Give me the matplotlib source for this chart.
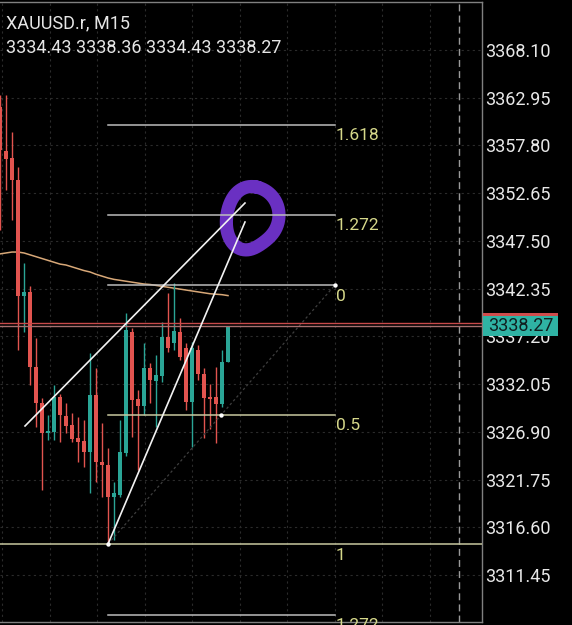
import matplotlib
matplotlib.use("Agg")
import matplotlib.pyplot as plt
from matplotlib.patches import Rectangle
import numpy as np

# ---------------- data ----------------
symbol_text = "XAUUSD.r, M15"
ohlc_text = "3334.43 3338.36 3334.43 3338.27"

opens = [3361.95, 3357.20, 3356.45, 3354.07, 3341.55, 3341.99, 3333.89, 3330.01, 3326.77, 3326.88,
         3330.65, 3328.61, 3327.63, 3326.23, 3325.91, 3324.72, 3330.87, 3323.64, 3323.32, 3319.86,
         3320.08, 3324.61, 3337.67, 3330.44, 3329.68, 3333.78, 3332.38, 3332.92, 3337.13, 3336.48,
         3337.67, 3335.94, 3330.12, 3335.73, 3333.14, 3330.65, 3330.65, 3329.90, 3334.43]
highs = [3363.24, 3363.24, 3359.25, 3355.47, 3345.12, 3342.63, 3337.02, 3330.55, 3328.71, 3331.95,
         3330.98, 3330.01, 3328.93, 3328.50, 3328.17, 3335.40, 3333.78, 3327.85, 3325.15, 3321.48,
         3328.17, 3339.72, 3338.10, 3331.41, 3336.48, 3334.32, 3335.19, 3338.75, 3341.88, 3342.96,
         3339.18, 3336.48, 3336.59, 3336.27, 3333.78, 3332.06, 3333.89, 3335.73, 3338.36]
lows = [3348.68, 3352.99, 3349.76, 3335.73, 3337.67, 3331.95, 3327.42, 3320.62, 3326.02, 3326.02,
        3325.80, 3326.77, 3325.80, 3323.64, 3323.10, 3320.30, 3321.48, 3319.86, 3314.79, 3315.22,
        3319.86, 3324.30, 3326.34, 3322.78, 3328.71, 3330.01, 3327.42, 3332.27, 3335.51, 3335.73,
        3334.65, 3329.25, 3325.26, 3332.49, 3326.23, 3327.20, 3325.69, 3329.60, 3334.43]
closes = [3357.31, 3356.34, 3354.07, 3341.55, 3341.99, 3333.89, 3330.01, 3326.77, 3326.99, 3330.65,
          3328.71, 3327.53, 3326.12, 3325.80, 3324.72, 3330.87, 3323.64, 3323.32, 3319.86, 3320.30,
          3324.72, 3337.89, 3330.33, 3329.68, 3333.78, 3332.49, 3333.03, 3337.13, 3335.94, 3337.78,
          3334.97, 3330.12, 3335.94, 3333.14, 3330.55, 3330.44, 3329.90, 3334.43, 3338.27]
ma_values = [3346.10, 3346.20, 3346.30, 3346.30, 3346.20, 3346.00, 3345.80, 3345.60, 3345.40, 3345.20,
             3345.00, 3344.90, 3344.70, 3344.50, 3344.30, 3344.15, 3343.90, 3343.70, 3343.50, 3343.35,
             3343.25, 3343.15, 3343.05, 3342.95, 3342.85, 3342.80, 3342.70, 3342.60, 3342.50, 3342.40,
             3342.30, 3342.20, 3342.10, 3342.00, 3341.90, 3341.80, 3341.75, 3341.70, 3341.60]

y_ticks = [3368.10, 3362.95, 3357.80, 3352.65, 3347.50, 3342.35, 3337.20,
           3332.05, 3326.90, 3321.75, 3316.60, 3311.45]

fib_anchor0 = (55.83, 3342.74)
fib_anchor1 = (18.0, 3314.79)
fib_ratios = [-0.618, -0.272, 0.0, 0.5, 1.0, 1.272]
fib_labels = ["1.618", "1.272", "0", "0.5", "1", "1.272"]

trend_a_x = [4.17, 40.83]
trend_a_y = [3327.53, 3351.59]
trend_b_x = [18.0, 40.83]
trend_b_y = [3314.79, 3349.54]

bid_price = 3338.27
ask_price = 3338.59
last_label = "3338.27"

# ---------------- figure ----------------
W, H = 572, 625
fig = plt.figure(figsize=(W / 100, H / 100), dpi=100, facecolor="black")
ax = fig.add_axes([0, 3 / H, 482 / W, 620 / H], facecolor="black")
ax.set_xlim(0, 80.33)
ax.set_ylim(3306.38, 3373.28)

FONT = ["Roboto", "DejaVu Sans"]

# grid
for gx in [0.33 + 7.92 * n for n in range(10)]:
    ax.axvline(gx, color="#2b2b2b", lw=0.8, ls=(0, (2, 3)), zorder=0)
for gy in y_ticks:
    ax.axhline(gy, color="#2b2b2b", lw=0.8, ls=(0, (2, 3)), zorder=0)

# dashed vertical (future separator)
ax.axvline(76.5, color="#9a9a9a", lw=1.0, ls=(0, (5, 3)), zorder=1)

# moving average
xs = np.arange(len(closes))
ax.plot(xs, ma_values, color="#d8a878", lw=1.1, zorder=2)

# candles
up_col, dn_col = "#2aa596", "#e2544f"
cols = [up_col if c >= o else dn_col for o, c in zip(opens, closes)]
ax.vlines(xs, lows, highs, colors=cols, lw=1.0, zorder=3)
bottoms = [min(o, c) for o, c in zip(opens, closes)]
heights = [max(abs(c - o), 0.15) for o, c in zip(opens, closes)]
ax.bar(xs, heights, bottom=bottoms, width=0.68, color=cols, zorder=4, linewidth=0)

# purple hand-drawn circle
t = np.linspace(np.deg2rad(75), np.deg2rad(75 + 368), 240)
cx, cy, rx, ry = 41.95, 3350.0, 4.2, 3.5
wob = 1 + 0.07 * np.cos(2 * (t - 0.5)) + 0.04 * np.cos(3 * t)
ax.plot(cx + rx * wob * np.cos(t), cy + ry * wob * np.sin(t),
        color="#6a30c2", lw=9.5, solid_capstyle="round", zorder=5)

# fibonacci
p0 = fib_anchor0[1]
rng = fib_anchor0[1] - fib_anchor1[1]
for r, lab in zip(fib_ratios, fib_labels):
    price = p0 - r * rng
    col = "#c8c8a0" if r in (0.5, 1.0) else "#bdbdbd"
    if r == 1.0:
        ax.axhline(price, color=col, lw=1.1, zorder=6)
    else:
        ax.plot([fib_anchor1[0], fib_anchor0[0]], [price, price], color=col, lw=1.1, zorder=6)
    ax.annotate(lab, (fib_anchor0[0], price), xytext=(0.5, -2.5), textcoords="offset points",
                ha="left", va="top", color="#d6d88a", fontsize=12.5, family=FONT, zorder=7)

# fib diagonal
ax.plot([fib_anchor1[0], fib_anchor0[0]], [fib_anchor1[1], fib_anchor0[1]],
        color="#3e3e3e", lw=0.9, ls=(0, (2, 2)), zorder=6)
mid = ((fib_anchor0[0] + fib_anchor1[0]) / 2, (fib_anchor0[1] + fib_anchor1[1]) / 2)
ax.scatter([fib_anchor1[0], fib_anchor0[0], mid[0]], [fib_anchor1[1], fib_anchor0[1], mid[1]],
           s=10, color="white", zorder=9, linewidths=0)

# trend lines
ax.plot(trend_a_x, trend_a_y, color="#f2f2f2", lw=1.2, zorder=8)
ax.plot(trend_b_x, trend_b_y, color="#f2f2f2", lw=1.2, zorder=8)

# bid / ask lines
ax.axhline(ask_price, color="#c84a4a", lw=1.0, zorder=7)
ax.axhline(bid_price, color="#a87070", lw=1.0, zorder=7)

# axes styling
ax.spines["left"].set_visible(False)
for s in ["top", "bottom", "right"]:
    ax.spines[s].set_color("#808080")
    ax.spines[s].set_linewidth(1.0)
ax.set_xticks([])
ax.yaxis.tick_right()
ax.set_yticks(y_ticks)
ax.set_yticklabels([f"{v:.2f}" for v in y_ticks])
ax.tick_params(axis="y", length=0, pad=2, colors="#e8e8e8", labelsize=13)
for lbl in ax.get_yticklabels():
    lbl.set_family(FONT)

# header text
fig.text(6 / W, (H - 28) / H, symbol_text, color="#e6e6e6", fontsize=13, family=FONT,
         ha="left", va="baseline")
fig.text(6 / W, (H - 53) / H, ohlc_text, color="#e6e6e6", fontsize=13, family=FONT,
         ha="left", va="baseline")

# last price label box (covers the tick label beneath, as in the terminal)
fig.patches.append(Rectangle((483 / W, (H - 316) / H), 75 / W, 3 / H, transform=fig.transFigure,
                             facecolor="#d04c4c", edgecolor="none", zorder=10))
fig.patches.append(Rectangle((483 / W, (H - 336) / H), 75 / W, 20 / H, transform=fig.transFigure,
                             facecolor="#2fb3a4", edgecolor="none", zorder=10))
fig.text(520.5 / W, (H - 326) / H, last_label, color="#102020", fontsize=13, family=FONT,
         ha="center", va="center", zorder=11)

fig.savefig("out.png", dpi=100, facecolor="black")
